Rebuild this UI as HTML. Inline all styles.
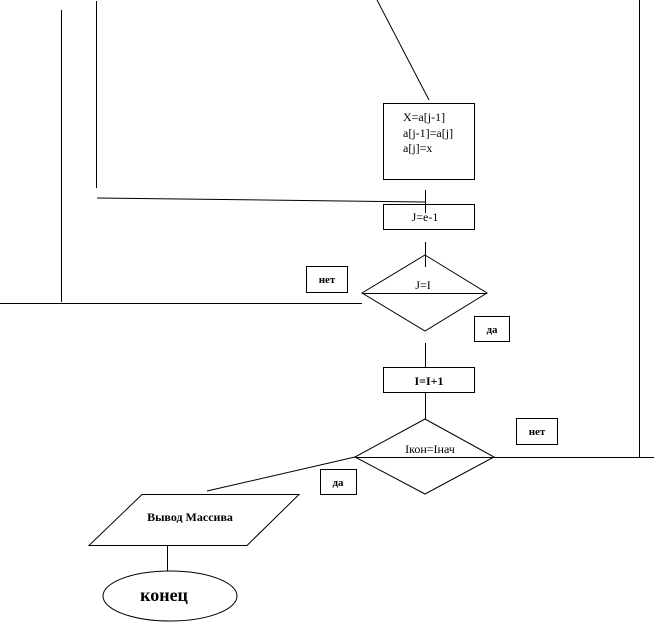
<!DOCTYPE html>
<html><head><meta charset="utf-8"><style>
html,body{margin:0;padding:0;background:#fff;}
svg{display:block;}
text{font-family:"Liberation Serif",serif;fill:#000;}
</style></head><body>
<svg width="654" height="625" viewBox="0 0 654 625" xmlns="http://www.w3.org/2000/svg">
<g stroke="#000" stroke-width="1" fill="none">
<line x1="61.5" y1="10" x2="61.5" y2="302"/>
<line x1="96.5" y1="1" x2="96.5" y2="188"/>
<line x1="639.5" y1="0" x2="639.5" y2="457"/>
<line x1="377" y1="0" x2="429" y2="100"/>
<rect x="383.5" y="103.5" width="91" height="76"/>
<polyline points="97,198 425,202"/>
<line x1="425.5" y1="190" x2="425.5" y2="213"/>
<rect x="383.5" y="204.5" width="91" height="25"/>
<line x1="425.5" y1="242" x2="425.5" y2="267"/>
<polygon points="425,255 487,293 425,331 362,293"/>
<line x1="362" y1="293.5" x2="487" y2="293.5"/>
<line x1="0" y1="303.5" x2="362" y2="303.5"/>
<rect x="306.5" y="266.5" width="41" height="26"/>
<rect x="474.5" y="316.5" width="35" height="25"/>
<line x1="425.5" y1="343" x2="425.5" y2="367"/>
<rect x="383.5" y="367.5" width="91" height="25"/>
<line x1="425.5" y1="392" x2="425.5" y2="419"/>
<polygon points="425,419 494,457 425,494 355,457"/>
<line x1="355" y1="457.5" x2="654" y2="457.5"/>
<rect x="516.5" y="418.5" width="41" height="26"/>
<line x1="355" y1="457" x2="207" y2="491"/>
<rect x="320.5" y="469.5" width="36" height="25"/>
<polygon points="142,494.5 299,494.5 247,545.5 89,545.5"/>
<line x1="167.5" y1="545" x2="167.5" y2="571"/>
<ellipse cx="170" cy="596" rx="67" ry="25"/>
</g>
<text x="403" y="121" font-size="12">X=a[j-1]</text>
<text x="403" y="137" font-size="12">a[j-1]=a[j]</text>
<text x="403" y="152" font-size="12">a[j]=x</text>
<text x="425" y="221" font-size="12" text-anchor="middle">J=e-1</text>
<text x="423" y="289" font-size="12" text-anchor="middle">J=I</text>
<text x="327" y="283" font-size="11" font-weight="bold" text-anchor="middle">нет</text>
<text x="492" y="333" font-size="11" font-weight="bold" text-anchor="middle">да</text>
<text x="429" y="385" font-size="12" font-weight="bold" text-anchor="middle">I=I+1</text>
<text x="430" y="453" font-size="12" text-anchor="middle">Iкон=Iнач</text>
<text x="537" y="435" font-size="11" font-weight="bold" text-anchor="middle">нет</text>
<text x="338" y="486" font-size="11" font-weight="bold" text-anchor="middle">да</text>
<text x="190" y="521" font-size="12" font-weight="bold" text-anchor="middle">Вывод Массива</text>
<text x="164" y="601" font-size="18" font-weight="bold" text-anchor="middle">конец</text>
</svg>
</body></html>
